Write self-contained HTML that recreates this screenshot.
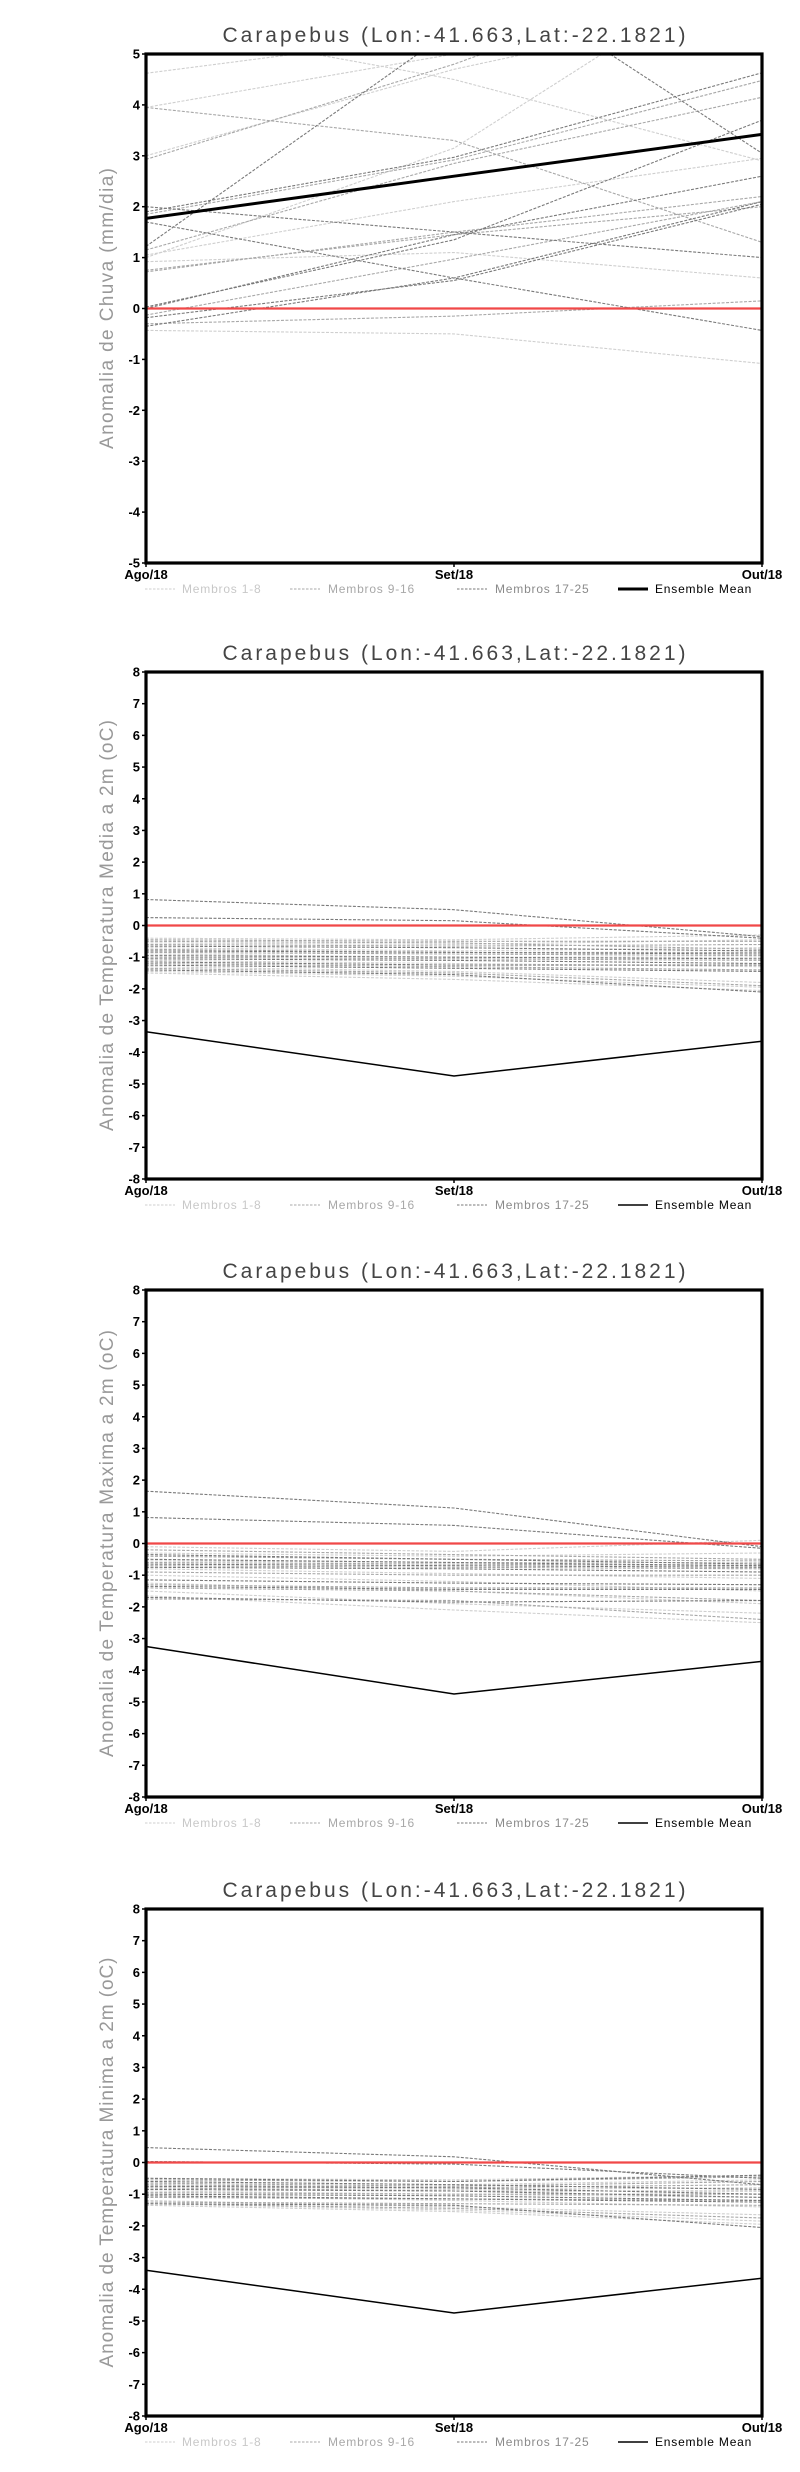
<!DOCTYPE html>
<html><head><meta charset="utf-8">
<style>
html,body{margin:0;padding:0;background:#fff;}
svg{display:block;}
.tick{font-family:"Liberation Sans Narrow","Liberation Sans",sans-serif;font-weight:bold;font-size:13px;fill:#000;}
.ttl{font-family:"Liberation Sans",sans-serif;font-size:21px;fill:#444;}
.ytl{font-family:"Liberation Sans",sans-serif;font-size:19px;fill:#999;}
.leg{font-family:"Liberation Sans",sans-serif;font-size:12px;}
</style></head>
<body>
<svg id="root" width="800" height="2472" viewBox="0 0 800 2472" xmlns="http://www.w3.org/2000/svg"></svg>
<script>
const months = ["Ago/18","Set/18","Out/18"];
const titleText = "Carapebus (Lon:-41.663,Lat:-22.1821)";
const yTitles = ["Anomalia de Chuva (mm/dia)","Anomalia de Temperatura Media a 2m (oC)","Anomalia de Temperatura Maxima a 2m (oC)","Anomalia de Temperatura Minima a 2m (oC)"];
const yMin = [-5,-8,-8,-8];
const yMax = [5,8,8,8];
// Chart 1: precipitation members (values at Ago, Set, Out)
const chuvaAgo = [4.62,3.0,3.95,5.6,1.05,0.92,1.0,-0.43, 3.95,1.85,2.93,1.15,0.75,0.72,-0.13,-0.3, 1.9,2.0,1.7,1.22,0.03,0.0,-0.18,-0.35,5.5];
const chuvaSet = [5.4,4.7,5.0,4.5,2.1,1.1,3.15,-0.5, 3.3,2.92,4.8,2.85,1.45,1.5,0.97,-0.15, 2.97,1.5,0.6,5.5,1.35,1.45,0.55,0.6,7.0];
const chuvaOut = [6.0,6.0,6.0,2.9,2.95,0.6,7.0,-1.08, 1.3,4.48,7.0,4.15,2.0,2.2,2.1,0.15, 4.63,1.0,-0.43,8.0,3.7,2.6,2.05,2.1,3.05];
const chuvaMean = [1.77,2.6,3.42];
// Chart 2: temperatura media
const mediaAgo = [-0.4,-0.55,-0.7,-0.9,-1.1,-1.3,-1.45,-1.5, -0.45,-0.6,-0.75,-0.85,-1.0,-1.2,-1.35,-0.5, 0.82,0.25,-0.65,-0.8,-0.95,-1.05,-1.15,-1.25,-1.4];
const mediaSet = [-0.45,-0.6,-0.8,-1.0,-1.2,-1.45,-1.6,-1.7, -0.5,-0.65,-0.85,-0.9,-1.05,-1.3,-1.5,-0.55, 0.5,0.15,-0.7,-0.85,-1.0,-1.1,-1.25,-1.35,-1.55];
const mediaOut = [-0.3,-0.45,-0.7,-1.0,-1.3,-1.8,-1.95,-2.05, -0.5,-0.6,-0.85,-0.95,-1.1,-1.4,-1.9,-0.75, -0.35,-0.4,-0.8,-0.9,-1.05,-1.2,-1.25,-1.45,-2.1];
const mediaMean = [-3.35,-4.75,-3.65];
// Chart 3: temperatura maxima
const maxAgo = [-0.1,-0.3,-0.55,-0.8,-1.0,-1.25,-1.5,-1.65, -0.2,-0.4,-0.6,-0.7,-0.9,-1.3,-1.4,-1.75, 1.65,0.82,-0.35,-0.5,-0.65,-0.75,-1.15,-1.35,-1.7];
const maxSet = [-0.25,-0.4,-0.6,-0.95,-1.2,-1.5,-1.9,-2.1, -0.35,-0.5,-0.65,-0.75,-1.0,-1.4,-1.5,-1.8, 1.12,0.57,-0.5,-0.6,-0.7,-0.8,-1.25,-1.45,-1.85];
const maxOut = [0.1,-0.3,-0.6,-1.1,-1.5,-1.9,-2.2,-2.5, -0.5,-0.55,-0.7,-0.8,-1.0,-1.4,-1.8,-2.4, -0.1,-0.15,-0.65,-0.7,-0.75,-0.9,-1.3,-1.45,-1.8];
const maxMean = [-3.25,-4.75,-3.72];
// Chart 4: temperatura minima
const minAgo = [-0.5,-0.6,-0.75,-0.9,-1.05,-1.2,-1.3,-1.35, -0.55,-0.65,-0.8,-0.95,-1.1,-1.25,-1.3,-0.7, 0.47,0.03,-0.5,-0.6,-0.75,-0.85,-1.0,-1.05,-1.3];
const minSet = [-0.55,-0.7,-0.85,-1.0,-1.2,-1.4,-1.5,-1.55, -0.6,-0.75,-0.9,-1.0,-1.15,-1.3,-1.45,-0.8, 0.18,-0.05,-0.6,-0.7,-0.8,-0.9,-1.05,-1.15,-1.35];
const minOut = [-0.4,-0.55,-0.8,-1.1,-1.4,-1.65,-1.85,-1.95, -0.45,-0.6,-0.9,-1.0,-1.2,-1.35,-1.75,-0.7, -0.7,-0.5,-0.4,-0.85,-1.0,-1.1,-1.2,-1.25,-2.05];
const minMean = [-3.4,-4.75,-3.65];

const charts = [
  {ago:chuvaAgo,set:chuvaSet,out:chuvaOut,mean:chuvaMean,top:54,bottom:563,meanW:3,ytl:281},
  {ago:mediaAgo,set:mediaSet,out:mediaOut,mean:mediaMean,top:672,bottom:1179,meanW:1.5,ytl:411},
  {ago:maxAgo,set:maxSet,out:maxOut,mean:maxMean,top:1290,bottom:1797,meanW:1.5,ytl:427},
  {ago:minAgo,set:minSet,out:minOut,mean:minMean,top:1909,bottom:2416,meanW:1.5,ytl:410}
];
const NS = "http://www.w3.org/2000/svg";
const root = document.getElementById('root');
const L = 146, R = 762;
const groupColors = ["#cfcfcf","#a8a8a8","#7a7a7a"];
function mk(tag, attrs, parent){
  const e = document.createElementNS(NS, tag);
  for (const k in attrs) e.setAttribute(k, attrs[k]);
  parent.appendChild(e);
  return e;
}
charts.forEach((c, ci) => {
  const g = mk('g', {}, root);
  
  
  const xS = i => L + (R - L) * i / (months.length - 1);
  const yS = v => c.bottom - (v - yMin[ci]) / (yMax[ci] - yMin[ci]) * (c.bottom - c.top);
  const clip = mk('clipPath', {id:'clip'+ci}, g);
  mk('rect', {x:L, y:c.top, width:R-L, height:c.bottom-c.top}, clip);
  // title
  const t = mk('text', {x:(L+R)/2, y:c.top-12, 'text-anchor':'middle', class:'ttl', textLength:463, lengthAdjust:'spacing'}, g);
  t.textContent = titleText;
  
  
  // y title
  const cy = (c.top + c.bottom)/2;
  const yt = mk('text', {x:0, y:0, 'text-anchor':'middle', class:'ytl', transform:`translate(113,${cy}) rotate(-90)`, textLength:c.ytl, lengthAdjust:'spacing'}, g);
  yt.textContent = yTitles[ci];
  
  
  // members
  const lines = mk('g', {'clip-path':`url(#clip${ci})`}, g);
  for (let m = 0; m < c.ago.length; m++) {
    const vals = [c.ago[m], c.set[m], c.out[m]];
    const grp = m < 8 ? 0 : (m < 16 ? 1 : 2);
    const pts = vals.map((v,i) => xS(i).toFixed(1) + ',' + yS(v).toFixed(1)).join(' ');
    const pl = mk('polyline', {points:pts, fill:'none', stroke:groupColors[grp], 'stroke-width':1.1, 'stroke-dasharray':'3,1.5'}, lines);
    
    
  }
  // zero line
  const z = mk('line', {x1:L, x2:R, y1:yS(0), y2:yS(0), stroke:'#f04848', 'stroke-width':2.2}, g);
  
  
  // mean
  const mp = c.mean.map((v,i) => xS(i).toFixed(1) + ',' + yS(v).toFixed(1)).join(' ');
  const ml = mk('polyline', {points:mp, fill:'none', stroke:'#000', 'stroke-width':c.meanW}, lines);
  
  
  // frame
  const fr = mk('rect', {x:L, y:c.top, width:R-L, height:c.bottom-c.top, fill:'none', stroke:'#000', 'stroke-width':3.2}, g);
  
  
  // y ticks
  for (let v = yMin[ci]; v <= yMax[ci]; v++) {
    const y = yS(v);
    mk('line', {x1:L-4, x2:L, y1:y, y2:y, stroke:'#000', 'stroke-width':1.5}, g);
    const tl = mk('text', {x:L-6, y:y+4.5, 'text-anchor':'end', class:'tick'}, g);
    tl.textContent = String(v);
    
    
  }
  // x ticks
  months.forEach((mo, i) => {
    const x = xS(i);
    mk('line', {x1:x, x2:x, y1:c.bottom, y2:c.bottom+4, stroke:'#000', 'stroke-width':1.5}, g);
    const xl = mk('text', {x:x, y:c.bottom+16, 'text-anchor':'middle', class:'tick'}, g);
    xl.textContent = mo;
    
    
  });
  // legend
  const ly = c.bottom + 30;
  const legItems = [
    {x:145, tx:182, txt:'Membros 1-8', col:'#cfcfcf', tcol:'#c8c8c8', dash:true},
    {x:290, tx:328, txt:'Membros 9-16', col:'#a8a8a8', tcol:'#a8a8a8', dash:true},
    {x:457, tx:495, txt:'Membros 17-25', col:'#7a7a7a', tcol:'#8a8a8a', dash:true},
    {x:618, tx:655, txt:'Ensemble Mean', col:'#000', tcol:'#000', dash:false}
  ];
  legItems.forEach(it => {
    const lg = mk('g', {}, g);
    
    
    const a = {x1:it.x, x2:it.x+30, y1:ly-4, y2:ly-4, stroke:it.col, 'stroke-width': it.dash ? 1 : c.meanW};
    if (it.dash) a['stroke-dasharray'] = '2.5,1.5';
    mk('line', a, lg);
    const tx = mk('text', {x:it.tx, y:ly, class:'leg', fill:it.tcol, 'letter-spacing':'0.8'}, lg);
    tx.textContent = it.txt;
  });
});
</script>
</body></html>
